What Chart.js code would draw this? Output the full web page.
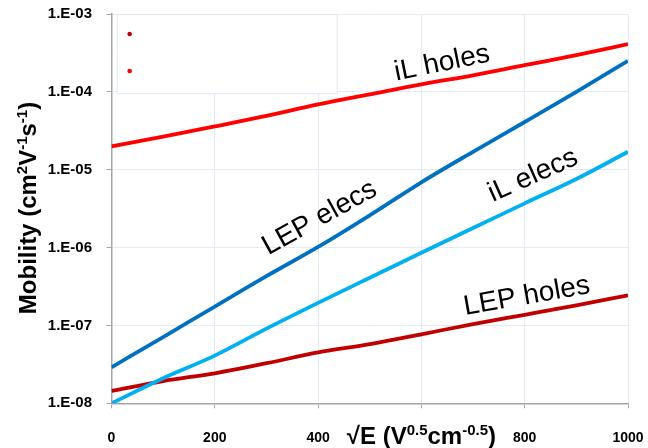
<!DOCTYPE html>
<html><head><meta charset="utf-8">
<script src="https://cdn.jsdelivr.net/npm/chart.js@4"></script>
<style>html,body{margin:0;padding:0;background:#fff}#wrap{width:648px;height:448px}</style>
</head><body><div id="wrap"><canvas id="c" width="648" height="448"></canvas></div>
<script>
const xValues   = [0, 100, 200, 300, 400, 500, 600, 700, 800, 900, 1000];
const ilHoles   = [2.0e-5, 2.67e-5, 3.6e-5, 4.9e-5, 6.9e-5, 9.3e-5, 1.25e-4, 1.63e-4, 2.2e-4, 2.96e-4, 4.1e-4];
const lepElecs  = [2.9e-8, 7.1e-8, 1.75e-7, 4.3e-7, 1.02e-6, 2.6e-6, 6.9e-6, 1.7e-5, 4.1e-5, 1.0e-4, 2.5e-4];
const ilElecs   = [1.0e-8, 2.1e-8, 4.1e-8, 9.1e-8, 1.95e-7, 4.1e-7, 8.6e-7, 1.78e-6, 3.7e-6, 7.6e-6, 1.7e-5];
const lepHoles  = [1.44e-8, 1.93e-8, 2.43e-8, 3.27e-8, 4.5e-8, 5.75e-8, 7.7e-8, 1.04e-7, 1.37e-7, 1.81e-7, 2.44e-7];
const seriesNames = ["iL holes", "LEP elecs", "iL elecs", "LEP holes"];
const yTickValues = [1e-8, 1e-7, 1e-6, 1e-5, 1e-4, 1e-3];
const yTickLabels = ["1.E-08", "1.E-07", "1.E-06", "1.E-05", "1.E-04", "1.E-03"];
const xTickValues = [0, 200, 400, 600, 800, 1000];
const xTickLabels = ["0", "200", "400", "600", "800", "1000"];

const colors = ["#ff0000", "#0070c0", "#00b0f0", "#c00000"];
const seriesData = [ilHoles, lepElecs, ilElecs, lepHoles];
// in-chart series labels, anchored in data coordinates
const labelAnchors = [
  {x: 640, y: 2.33e-4, rot: -11.5},
  {x: 403, y: 2.4e-6, rot: -29},
  {x: 816, y: 8.4e-6, rot: -24},
  {x: 804, y: 2.37e-7, rot: -10}
];

const FONT = '"Liberation Sans", Arial, sans-serif';

function drawRich(ctx, parts, cx, cy, size, rot, bg) {
  ctx.save();
  ctx.translate(cx, cy);
  ctx.rotate(rot);
  const main = `bold ${size}px ${FONT}`;
  const sup = `bold ${Math.round(size * 0.62)}px ${FONT}`;
  let w = 0;
  parts.forEach(p => { ctx.font = p.sup ? sup : main; p.w = ctx.measureText(p.t).width; w += p.w; });
  if (bg) { ctx.fillStyle = '#fff'; ctx.fillRect(-w / 2 - 4, -size * 0.75, w + 8, size * 1.3); }
  ctx.fillStyle = '#000';
  ctx.textBaseline = 'alphabetic';
  ctx.textAlign = 'left';
  const base = size * 0.36;
  let x = -w / 2;
  parts.forEach(p => { ctx.font = p.sup ? sup : main; ctx.fillText(p.t, x, p.sup ? base - size * 0.38 : base); x += p.w; });
  ctx.restore();
}

const decor = {
  id: 'decor',
  beforeDatasetsDraw(chart) {
    const ctx = chart.ctx;
    const xs = chart.scales.x, ys = chart.scales.y;
    const l = xs.getPixelForValue(10), t = ys.getPixelForValue(1e-3);
    const r = xs.getPixelForValue(436), b = ys.getPixelForValue(0.96e-4);
    ctx.save();
    ctx.fillStyle = '#fff';
    ctx.fillRect(l, t - 4, r - l, b - t + 4);
    ctx.strokeStyle = '#dfe7f1';
    ctx.lineWidth = 1;
    ctx.strokeRect(l + 0.5, t + 0.5, r - l, b - t);
    ctx.fillStyle = colors[3];
    ctx.beginPath(); ctx.arc(l + 13, t + 20, 2.3, 0, Math.PI * 2); ctx.fill();
    ctx.fillStyle = colors[0];
    ctx.beginPath(); ctx.arc(l + 13, t + 57, 2.3, 0, Math.PI * 2); ctx.fill();
    ctx.restore();
  },
  afterDraw(chart) {
    const ctx = chart.ctx;
    const xs = chart.scales.x, ys = chart.scales.y;
    ctx.save();
    ctx.fillStyle = '#000';
    ctx.font = `28px ${FONT}`;
    ctx.textAlign = 'center';
    ctx.textBaseline = 'middle';
    labelAnchors.forEach((a, i) => {
      ctx.save();
      ctx.translate(xs.getPixelForValue(a.x), ys.getPixelForValue(a.y));
      ctx.rotate(a.rot * Math.PI / 180);
      ctx.fillText(seriesNames[i], 0, 0);
      ctx.restore();
    });
    ctx.restore();
    drawRich(ctx, [{t: '\u221AE ('}, {t: 'V'}, {t: '0.5', sup: true}, {t: 'cm'}, {t: '-0.5', sup: true}, {t: ')'}],
      xs.getPixelForValue(600), 435, 24, 0, true);
    drawRich(ctx, [{t: 'Mobility (cm'}, {t: '2', sup: true}, {t: 'V'}, {t: '-1', sup: true}, {t: 's'}, {t: '-1', sup: true}, {t: ')'}],
      27, 208, 24, -Math.PI / 2, false);
  }
};

new Chart(document.getElementById('c'), {
  type: 'line',
  data: {
    datasets: seriesData.map((arr, i) => ({
      label: seriesNames[i],
      data: xValues.map((x, j) => ({x: x, y: arr[j]})),
      borderColor: colors[i],
      borderWidth: 3.8,
      pointRadius: 0,
      cubicInterpolationMode: 'monotone',
      fill: false
    }))
  },
  options: {
    responsive: false,
    animation: false,
    devicePixelRatio: 1,
    layout: {padding: {top: 14, right: 20, left: 0, bottom: 0}},
    plugins: {legend: {display: false}, tooltip: {enabled: false}},
    scales: {
      x: {
        type: 'linear', min: 0, max: 1000,
        afterBuildTicks: s => { s.ticks = xTickValues.map(v => ({value: v})); },
        afterFit: s => { s.height = 44.7; s.paddingLeft = 0; s.paddingRight = 0; },
        ticks: {
          callback: v => { const i = xTickValues.indexOf(v); return i >= 0 ? xTickLabels[i] : ''; },
          font: {family: FONT, weight: 'bold', size: 14}, color: '#000', padding: 21, maxRotation: 0, autoSkip: false
        },
        grid: {color: '#e3eaf3', tickColor: '#a6a6a6', tickLength: 5, lineWidth: 1},
        border: {color: '#a6a6a6', width: 1.5}
      },
      y: {
        type: 'logarithmic', min: 1e-8, max: 1e-3,
        afterBuildTicks: s => { s.ticks = yTickValues.map(v => ({value: v})); },
        afterFit: s => { s.width = 111.5; s.paddingTop = 0; s.paddingBottom = 0; },
        ticks: {
          callback: v => { const i = yTickValues.findIndex(t => Math.abs(Math.log10(t) - Math.log10(v)) < 1e-6); return i >= 0 ? yTickLabels[i] : ''; },
          font: {family: FONT, weight: 'bold', size: 15}, color: '#000', padding: 14.5, autoSkip: false
        },
        grid: {color: '#e3eaf3', tickColor: '#a6a6a6', tickLength: 5, lineWidth: 1},
        border: {color: '#a6a6a6', width: 1.5}
      }
    }
  },
  plugins: [decor]
});
</script>
</body></html>
